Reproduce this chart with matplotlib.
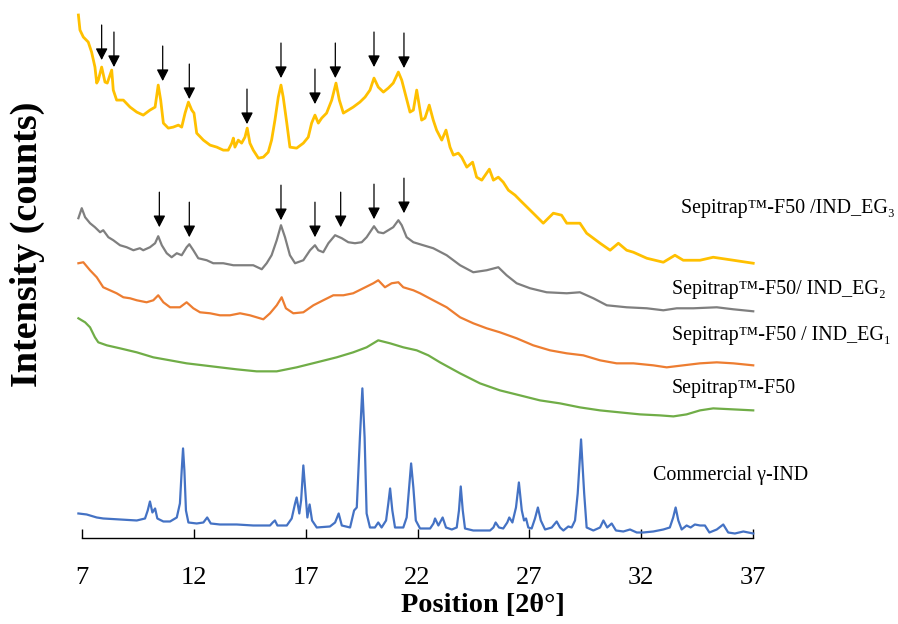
import numpy as np
import matplotlib
matplotlib.use("Agg")
import matplotlib.pyplot as plt

plt.rcParams['font.family'] = ['Liberation Serif', 'DejaVu Serif']

# ---------------- data (2theta, intensity in arbitrary stacked counts) ----------------
eg3_x = [6.83, 6.90, 7.05, 7.27, 7.42, 7.57, 7.65, 7.72, 7.87, 8.02, 8.12, 8.32, 8.39, 8.54, 8.84, 9.14,
         9.44, 9.73, 10.03, 10.26, 10.40, 10.51, 10.63, 10.85, 11.07, 11.30, 11.45, 11.60, 11.75, 11.90,
         12.00, 12.12, 12.42, 12.72, 13.02, 13.31, 13.53, 13.69, 13.76, 13.83, 13.98, 14.13, 14.28, 14.38,
         14.50, 14.65, 14.88, 15.10, 15.32, 15.47, 15.62, 15.77, 15.89, 15.99, 16.15, 16.29, 16.59, 16.89,
         17.11, 17.26, 17.41, 17.56, 17.71, 17.93, 18.16, 18.35, 18.50, 18.68, 18.90, 19.12, 19.42, 19.65,
         19.87, 20.05, 20.24, 20.47, 20.69, 20.91, 21.14, 21.29, 21.44, 21.66, 21.81, 21.96, 22.18, 22.33,
         22.52, 22.70, 22.85, 23.08, 23.27, 23.45, 23.60, 23.82, 23.97, 24.20, 24.46, 24.64, 24.87, 25.21,
         25.39, 25.61, 25.83, 26.06, 26.36, 26.58, 27.17, 27.62, 28.07, 28.44, 28.67, 29.26, 29.56, 30.16,
         30.61, 30.98, 31.35, 31.65, 32.25, 32.99, 33.51, 33.88, 34.63, 35.22, 36.12, 37.01]
eg3_y = [609, 594, 587, 582, 572, 557, 541, 544, 557, 542, 541, 554, 534, 524, 524, 517,
         512, 509, 514, 517, 539, 524, 501, 496, 497, 499, 497, 511, 522, 514,
         511, 491, 484, 479, 477, 474, 474, 481, 486, 477, 484, 481, 487, 496,
         481, 474, 466, 467, 472, 484, 504, 527, 539, 527, 501, 477, 476, 481,
         487, 501, 509, 501, 506, 511, 524, 541, 524, 511, 514, 517, 522, 527,
         534, 546, 537, 532, 536, 541, 552, 544, 531, 512, 514, 534, 504, 506,
         519, 504, 494, 484, 494, 477, 469, 471, 467, 457, 462, 447, 444, 455,
         444, 447, 442, 434, 429, 424, 411, 401, 411, 409, 401, 401, 391, 381,
         374, 381, 374, 372, 366, 362, 369, 364, 364, 367, 364, 361]

eg2_x = [6.83, 6.98, 7.13, 7.35, 7.57, 7.80, 7.94, 8.17, 8.39, 8.69, 8.99, 9.29, 9.58, 9.73, 10.03, 10.26,
         10.40, 10.56, 10.78, 11.00, 11.23, 11.45, 11.67, 11.79, 11.97, 12.19, 12.57, 12.86, 13.31, 13.76,
         14.20, 14.65, 15.03, 15.25, 15.47, 15.70, 15.89, 16.07, 16.29, 16.52, 16.89, 17.19, 17.41, 17.56,
         17.78, 18.01, 18.31, 18.61, 18.90, 19.20, 19.50, 19.72, 20.05, 20.24, 20.47, 20.69, 20.91, 21.14,
         21.29, 21.51, 21.81, 22.25, 22.70, 23.30, 23.90, 24.49, 25.09, 25.61, 25.98, 26.43, 27.03, 27.77,
         28.67, 29.26, 29.86, 30.46, 31.35, 32.25, 32.99, 33.59, 34.33, 35.38, 36.12, 37.01]
eg2_y = [406, 416, 407, 401, 397, 392, 394, 387, 384, 379, 377, 374, 376, 374, 377, 381,
         388, 379, 371, 367, 371, 369, 377, 380, 374, 366, 364, 361, 361, 359,
         359, 359, 355, 361, 369, 384, 399, 387, 369, 361, 364, 374, 379, 374,
         372, 381, 389, 386, 382, 381, 382, 387, 398, 392, 391, 394, 397, 404,
         399, 387, 382, 379, 376, 369, 359, 352, 354, 357, 349, 341, 336, 332,
         331, 332, 326, 319, 317, 316, 314, 316, 316, 317, 315, 313]

eg1_x = [6.83, 7.05, 7.35, 7.65, 7.94, 8.24, 8.54, 8.84, 9.14, 9.44, 9.88, 10.18, 10.40, 10.63, 10.93,
         11.37, 11.67, 11.97, 12.27, 12.72, 13.16, 13.61, 14.06, 14.50, 14.80, 15.10, 15.40, 15.70, 15.92,
         16.11, 16.44, 16.89, 17.34, 17.78, 18.23, 18.68, 19.12, 19.57, 20.02, 20.24, 20.54, 20.84, 21.14,
         21.36, 21.81, 22.11, 22.70, 23.30, 23.90, 24.49, 25.09, 25.68, 26.43, 27.17, 27.92, 28.67, 29.41,
         30.16, 30.90, 31.65, 32.54, 33.14, 33.88, 34.63, 35.38, 36.12, 37.01]
eg1_y = [361, 362, 354, 347, 337, 334, 331, 327, 326, 324, 322, 324, 329, 322, 317,
         317, 322, 316, 312, 311, 309, 309, 311, 309, 307, 305, 311, 319, 327,
         316, 311, 312, 319, 324, 329, 329, 331, 336, 341, 344, 337, 341, 342,
         337, 334, 331, 324, 317, 307, 301, 296, 292, 286, 279, 274, 271, 269,
         264, 261, 261, 259, 257, 259, 261, 262, 261, 259]

f50_x = [6.83, 7.13, 7.35, 7.57, 7.72, 8.10, 8.69, 9.44, 10.18, 10.93, 11.67, 12.42, 13.16, 13.91, 14.80,
         15.70, 16.59, 17.49, 18.38, 19.12, 19.72, 20.24, 20.77, 21.36, 21.96, 22.48, 23.00, 23.90, 24.79,
         25.68, 26.58, 27.47, 28.37, 29.26, 30.16, 31.05, 31.95, 32.84, 33.44, 34.03, 34.63, 35.22, 36.12, 37.01]
f50_y = [306, 302, 297, 287, 282, 279, 276, 272, 267, 264, 261, 259, 257, 255, 253,
         253, 257, 262, 267, 272, 277, 284, 281, 277, 274, 269, 262, 251, 241,
         234, 229, 224, 221, 217, 214, 212, 210, 209, 208, 210, 214, 216, 215, 214]

ind_x = [6.83, 7.20, 7.50, 7.65, 7.94, 8.69, 9.44, 9.81, 9.93, 10.03, 10.14, 10.26, 10.36, 10.63, 10.93,
         11.23, 11.37, 11.45, 11.51, 11.57, 11.64, 11.75, 12.12, 12.42, 12.59, 12.75, 13.16, 13.91, 14.65,
         15.40, 15.52, 15.62, 15.73, 16.15, 16.37, 16.52, 16.59, 16.71, 16.79, 16.89, 17.00, 17.07, 17.17,
         17.28, 17.49, 18.08, 18.31, 18.47, 18.61, 18.98, 19.16, 19.28, 19.42, 19.53, 19.63, 19.72, 19.87,
         20.09, 20.24, 20.39, 20.59, 20.69, 20.77, 20.87, 20.99, 21.36, 21.51, 21.62, 21.71, 21.81, 21.92,
         22.11, 22.56, 22.71, 22.78, 22.93, 23.12, 23.27, 23.53, 23.75, 23.85, 23.93, 24.02, 24.12, 24.49,
         25.24, 25.39, 25.49, 25.64, 25.83, 26.01, 26.10, 26.24, 26.40, 26.53, 26.66, 26.76, 26.85, 26.95,
         27.10, 27.25, 27.38, 27.51, 27.70, 28.00, 28.22, 28.37, 28.52, 28.74, 28.89, 29.04, 29.16, 29.31,
         29.45, 29.56, 29.86, 30.16, 30.31, 30.48, 30.68, 30.87, 31.20, 31.50, 31.80, 32.09, 32.54, 32.99,
         33.28, 33.43, 33.54, 33.66, 33.81, 34.03, 34.21, 34.40, 34.63, 34.85, 35.05, 35.38, 35.67, 35.89,
         36.19, 36.57, 37.01]
ind_y = [111, 110, 108, 107, 106, 105, 104, 106, 114, 123, 112, 116, 106, 103, 103,
         107, 121, 154, 176, 154, 114, 102, 101, 102, 107, 101, 100, 100, 99,
         99, 102, 104, 99, 99, 106, 121, 127, 111, 124, 159, 127, 107, 120,
         104, 97, 98, 102, 111, 99, 97, 114, 117, 187, 236, 187, 111, 97,
         97, 102, 97, 104, 121, 136, 114, 97, 97, 107, 137, 161, 137, 104,
         96, 96, 101, 106, 99, 107, 97, 95, 97, 114, 138, 114, 96, 94,
         94, 97, 102, 97, 96, 102, 107, 102, 117, 142, 114, 104, 106, 97,
         96, 106, 117, 104, 95, 97, 103, 97, 94, 98, 97, 104, 131, 185,
         131, 97, 94, 97, 104, 97, 101, 94, 93, 95, 92, 92, 93, 95,
         97, 107, 117, 104, 95, 99, 97, 100, 99, 99, 92, 95, 100, 92,
         91, 93, 91]

# marked peaks (arrow position, arrow tip intensity)
eg3_arrow_x = [7.87, 8.42, 10.60, 11.79, 14.37, 15.89, 17.41, 18.32, 20.05, 21.39]
eg3_arrow_tip = [564, 557, 543, 525, 500, 546, 520, 546, 557, 556]
eg2_arrow_x = [10.45, 11.79, 15.89, 17.41, 18.56, 20.05, 21.39]
eg2_arrow_tip = [397, 387, 404, 387, 397, 405, 411]

series_labels = ["Sepitrap\u2122-F50 /IND_EG\u2083",
                 "Sepitrap\u2122-F50/ IND_EG\u2082",
                 "Sepitrap\u2122-F50 / IND_EG\u2081",
                 "Sepitrap\u2122-F50",
                 "Commercial \u03b3-IND"]
xticks = [7, 12, 17, 22, 27, 32, 37]

# ---------------- figure ----------------
W, H = 898, 624
fig = plt.figure(figsize=(W / 100, H / 100), dpi=100)
ax = fig.add_axes([82.2 / W, 86.5 / H, 670.8 / W, 537.5 / H])

colors = ['#FFC000', '#7F7F7F', '#ED7D31', '#70AD47', '#4472C4']
data = [(eg3_x, eg3_y, 2.0), (eg2_x, eg2_y, 1.6), (eg1_x, eg1_y, 1.6),
        (f50_x, f50_y, 1.6), (ind_x, ind_y, 1.6)]
for (xs, ys, lw), c in zip(data, colors):
    ax.plot(xs, ys, color=c, lw=lw, clip_on=False, solid_joinstyle='round')

arrow_len = 35
for xs, tips in [(eg3_arrow_x, eg3_arrow_tip), (eg2_arrow_x, eg2_arrow_tip)]:
    for x, t in zip(xs, tips):
        ax.annotate('', xy=(x, t), xytext=(x, t + arrow_len),
                    arrowprops=dict(arrowstyle='-|>,head_length=0.7,head_width=0.36',
                                    color='black', lw=0.9, shrinkA=0, shrinkB=0,
                                    mutation_scale=10))

label_pos = [(33.80, 410.7), (33.36, 330.7), (33.36, 284.7), (33.36, 231.7), (32.54, 144)]
for (lx, ly), s in zip(label_pos, series_labels):
    ax.text(lx, ly, s, fontsize=14.4, va='baseline', ha='left', color='black')

ax.set_xlim(7, 37)
ax.set_ylim(87, 624)
ax.set_xticks(xticks)
ax.set_xticklabels([str(t) for t in xticks], fontsize=19)
ax.set_yticks([])
for sp in ['left', 'right', 'top']:
    ax.spines[sp].set_visible(False)
ax.spines['bottom'].set_linewidth(1.0)
ax.tick_params(axis='x', direction='in', length=6.5, width=1.0, pad=21)

ax.set_xlabel("Position [2\u03b8\u00b0]", fontsize=20.3, fontweight='bold')
ax.xaxis.set_label_coords(0.597, -0.127)
ax.xaxis.label.set_va('center')
ax.set_ylabel("Intensity (counts)", fontsize=27.5, fontweight='bold')
ax.yaxis.set_label_coords(-0.081, 0.546)
ax.yaxis.label.set_va('center')

fig.savefig('out.png', dpi=100)
